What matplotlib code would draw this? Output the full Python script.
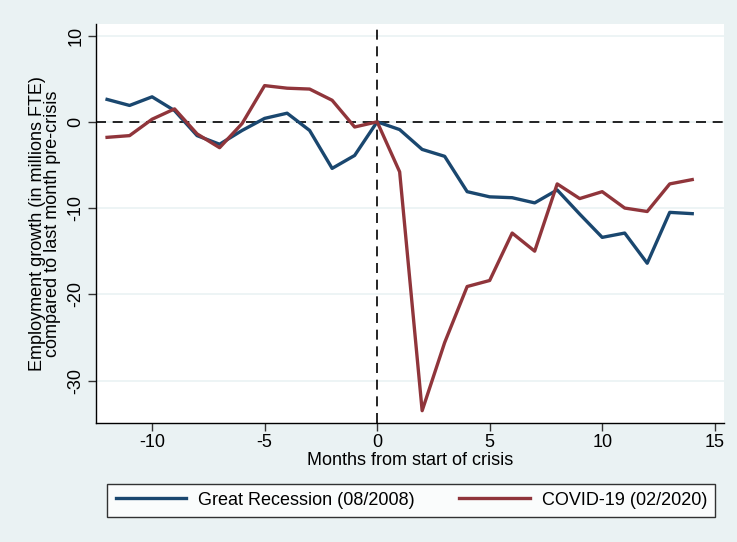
import matplotlib.pyplot as plt

plt.rcParams['font.family'] = ['Liberation Sans', 'DejaVu Sans']
plt.rcParams['axes.unicode_minus'] = False

months = list(range(-12, 15))
great_recession = [2.6, 1.9, 2.9, 1.3, -1.6, -2.6, -1.0, 0.4, 1.0, -1.0, -5.4, -3.9, 0.0,
                   -0.9, -3.2, -4.0, -8.1, -8.7, -8.8, -9.4, -7.9, -10.7, -13.4, -12.9,
                   -16.4, -10.5, -10.65]
covid = [-1.8, -1.6, 0.3, 1.5, -1.4, -3.0, -0.2, 4.2, 3.9, 3.8, 2.5, -0.6, 0.0,
         -5.8, -33.5, -25.6, -19.1, -18.4, -12.9, -15.0, -7.2, -8.9, -8.1, -10.0,
         -10.4, -7.2, -6.7]
labels = ['Great Recession (08/2008)', 'COVID-19 (02/2020)']
xticks = [-10, -5, 0, 5, 10, 15]
yticks = [-30, -20, -10, 0, 10]

bg = '#EAF2F3'
fig = plt.figure(figsize=(7.37, 5.42), dpi=100, facecolor=bg)
ax = fig.add_axes([0.130, 0.220, 0.852, 0.735])
ax.set_facecolor('white')

for y in yticks:
    ax.axhline(y, color=bg, lw=1.2, zorder=0)
ax.axhline(0, color='black', lw=1.2, ls=(0, (6, 4)), zorder=1)
ax.axvline(0, color='black', lw=1.2, ls=(0, (6, 4)), zorder=1)

ax.plot(months, great_recession, color='#1A476F', lw=2.4, label=labels[0], zorder=3)
ax.plot(months, covid, color='#90353B', lw=2.4, label=labels[1], zorder=3)

ax.set_xlim(-12.5, 15.4)
ax.set_ylim(-34.9, 11.3)
ax.set_xticks(xticks)
ax.set_yticks(yticks)
ax.set_yticklabels([str(v) for v in yticks], rotation=90, va='center')
ax.tick_params(labelsize=13, length=6, width=1, color='#333333', pad=2)

for s in ['top', 'right']:
    ax.spines[s].set_visible(False)
for s in ['left', 'bottom']:
    ax.spines[s].set_linewidth(1)

ax.set_xlabel('Months from start of crisis', fontsize=13, labelpad=1)
ax.set_ylabel('Employment growth (in millions FTE)\ncompared to last month pre-crisis',
              fontsize=13, labelpad=5, linespacing=0.82)

leg = fig.legend(loc='center', bbox_to_anchor=(0.558, 0.077), ncol=2, fontsize=13,
                 frameon=True, fancybox=False, edgecolor='black', handlelength=3.9,
                 columnspacing=2.5, borderpad=0.45, handletextpad=0.65, borderaxespad=0)
leg.get_frame().set_linewidth(1)

fig.savefig('out.png', dpi=100, facecolor=bg)
